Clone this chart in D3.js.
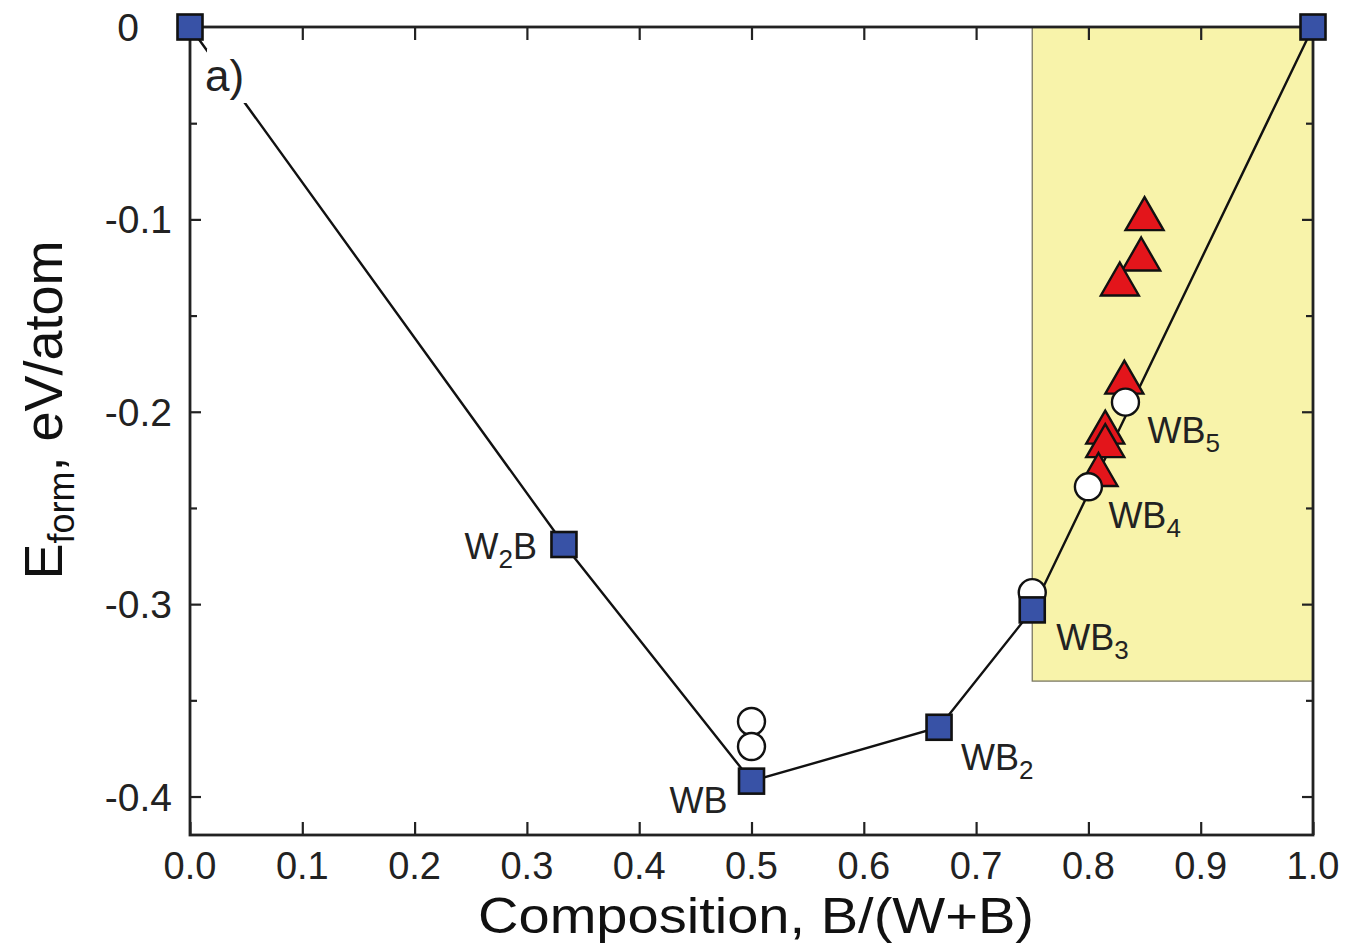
<!DOCTYPE html>
<html>
<head>
<meta charset="utf-8">
<script src="https://cdn.jsdelivr.net/npm/d3@7"></script>
<style>
  html, body { margin: 0; padding: 0; background: #fff; }
  svg { display: block; font-family: Arial, "Liberation Sans", Helvetica, sans-serif; }
</style>
</head>
<body>
<div id="chart"></div>
<script>
// Convex hull (stable phases), blue squares
const hullX = [0, 0.333, 0.5, 0.667, 0.75, 1.0];
const hullY = [0, -0.269, -0.392, -0.364, -0.303, 0];
const hullLabels = ["", "W{2}B", "WB", "WB{2}", "WB{3}", ""];

// Metastable structures, open circles
const circleX = [0.5, 0.5, 0.75, 0.8, 0.833];
const circleY = [-0.361, -0.374, -0.294, -0.239, -0.195];
const circleLabels = ["", "", "", "WB{4}", "WB{5}"];

// Other structures, red triangles
const triX = [0.85, 0.847, 0.828, 0.832, 0.815, 0.815, 0.809];
const triY = [-0.097, -0.118, -0.131, -0.182, -0.208, -0.215, -0.23];

// Highlighted boron-rich region
const regionX = [0.75, 1.0];
const regionY = [0, -0.34];

// Axis ticks
const xTicks = [0, 0.1, 0.2, 0.3, 0.4, 0.5, 0.6, 0.7, 0.8, 0.9, 1.0];
const yTicks = [0, -0.1, -0.2, -0.3, -0.4];
const yMinorTicks = [-0.05, -0.15, -0.25, -0.35];
const xDomain = [0, 1.0];
const yDomain = [-0.42, 0];

function drawHullChart(containerSelector) {
  const W = 1348, H = 945;
  const margin = { top: 27, right: 35, bottom: 110, left: 190 };
  const width = 1313 - margin.left;
  const height = 835 - margin.top;

  const svg = d3.select(containerSelector)
    .append("svg")
    .attr("width", W)
    .attr("height", H);

  const g = svg.append("g")
    .attr("transform", `translate(${margin.left},${margin.top})`);

  const x = d3.scaleLinear().domain(xDomain).range([0, width]);
  const y = d3.scaleLinear().domain(yDomain).range([height, 0]);

  // Yellow box
  g.append("rect")
    .attr("x", x(regionX[0]))
    .attr("y", y(regionY[0]))
    .attr("width", x(regionX[1]) - x(regionX[0]))
    .attr("height", y(regionY[1]) - y(regionY[0]))
    .attr("fill", "#f8f3aa")
    .attr("stroke", "#7a7862")
    .attr("stroke-width", 1.3);

  // Ticks (inward, all four sides)
  const tickStyle = sel => sel.select(".domain").remove();
  g.append("g").attr("transform", `translate(0,${height})`)
    .call(d3.axisTop(x).tickValues(xTicks).tickSize(13).tickFormat(""))
    .call(tickStyle);
  g.append("g")
    .call(d3.axisBottom(x).tickValues(xTicks).tickSize(13).tickFormat(""))
    .call(tickStyle);
  g.append("g")
    .call(d3.axisRight(y).tickValues(yTicks).tickSize(11).tickFormat(""))
    .call(tickStyle);
  g.append("g")
    .call(d3.axisRight(y).tickValues(yMinorTicks).tickSize(7).tickFormat(""))
    .call(tickStyle);
  g.append("g").attr("transform", `translate(${width},0)`)
    .call(d3.axisLeft(y).tickValues(yTicks).tickSize(11).tickFormat(""))
    .call(tickStyle);
  g.append("g").attr("transform", `translate(${width},0)`)
    .call(d3.axisLeft(y).tickValues(yMinorTicks).tickSize(7).tickFormat(""))
    .call(tickStyle);
  g.selectAll(".tick line").attr("stroke", "#222").attr("stroke-width", 2.2);

  // Frame
  g.append("rect")
    .attr("width", width)
    .attr("height", height)
    .attr("fill", "none")
    .attr("stroke", "#222")
    .attr("stroke-width", 2.8);

  // Tick labels (plain hyphen for minus, as in the original)
  const fmt = d => d === 0 ? "0" : d3.format(".1f")(d).replace("\u2212", "-");
  g.append("g").selectAll("text")
    .data(xTicks)
    .join("text")
    .attr("x", d => x(d))
    .attr("y", height + 44)
    .attr("text-anchor", "middle")
    .attr("font-size", 38)
    .attr("fill", "#222")
    .text(d => d3.format(".1f")(d));

  g.append("g").selectAll("text")
    .data(yTicks)
    .join("text")
    .attr("x", d => d === 0 ? -51 : -18)
    .attr("y", d => y(d))
    .attr("dy", "0.36em")
    .attr("text-anchor", "end")
    .attr("font-size", 39)
    .attr("fill", "#222")
    .text(fmt);

  // Axis titles
  svg.append("text")
    .attr("x", 756)
    .attr("y", 933)
    .attr("text-anchor", "middle")
    .attr("font-size", 50)
    .attr("textLength", 556)
    .attr("lengthAdjust", "spacingAndGlyphs")
    .attr("fill", "#111")
    .text("Composition, B/(W+B)");

  const yTitle = svg.append("text")
    .attr("transform", "translate(62,410) rotate(-90)")
    .attr("text-anchor", "middle")
    .attr("font-size", 54)
    .attr("fill", "#111");
  yTitle.append("tspan").text("E");
  yTitle.append("tspan").attr("font-size", 36).attr("dy", 12).text("form");
  yTitle.append("tspan").attr("dy", -12).text(", eV/atom");

  // Hull line
  const hullPts = hullX.map((d, i) => [d, hullY[i]]);
  g.append("path")
    .datum(hullPts)
    .attr("fill", "none")
    .attr("stroke", "#111")
    .attr("stroke-width", 2.4)
    .attr("d", d3.line().x(d => x(d[0])).y(d => y(d[1])));

  // Panel label "a)" with white background over the line
  g.append("rect")
    .attr("x", 17).attr("y", 22)
    .attr("width", 42).attr("height", 54)
    .attr("fill", "#fff");
  g.append("text")
    .attr("x", 15)
    .attr("y", 64)
    .attr("font-size", 44)
    .attr("fill", "#222")
    .text("a)");

  // Triangles
  const tw = 38, th = 33;
  const triPath = `M0,${-th / 2}L${tw / 2},${th / 2}L${-tw / 2},${th / 2}Z`;
  g.append("g").selectAll("path")
    .data(triX.map((d, i) => [d, triY[i]]))
    .join("path")
    .attr("transform", d => `translate(${x(d[0])},${y(d[1])})`)
    .attr("d", triPath)
    .attr("fill", "#e3151b")
    .attr("stroke", "#111")
    .attr("stroke-width", 2.4)
    .attr("stroke-linejoin", "miter");

  // Circles
  g.append("g").selectAll("circle")
    .data(circleX.map((d, i) => [d, circleY[i]]))
    .join("circle")
    .attr("cx", d => x(d[0]))
    .attr("cy", d => y(d[1]))
    .attr("r", 13.5)
    .attr("fill", "#fff")
    .attr("stroke", "#111")
    .attr("stroke-width", 2.4);

  // Squares
  const s = 25;
  g.append("g").selectAll("rect")
    .data(hullPts)
    .join("rect")
    .attr("x", d => x(d[0]) - s / 2)
    .attr("y", d => y(d[1]) - s / 2)
    .attr("width", s)
    .attr("height", s)
    .attr("fill", "#3852a6")
    .attr("stroke", "#111")
    .attr("stroke-width", 2.6);

  // Compound labels, "{n}" marks a subscript
  function addLabel(str, px, py, anchor) {
    const t = g.append("text")
      .attr("x", px).attr("y", py)
      .attr("text-anchor", anchor)
      .attr("font-size", 36)
      .attr("fill", "#222");
    str.split(/(\{\d+\})/).filter(p => p).forEach(p => {
      if (p.startsWith("{")) {
        t.append("tspan").attr("font-size", 26).attr("dy", 9).text(p.slice(1, -1));
      } else {
        const sp = t.append("tspan").text(p);
        if (t.selectAll("tspan").size() > 1) sp.attr("dy", -9);
      }
    });
  }

  // label offsets relative to the marker (px)
  const hullOffsets = [null, [-27, 14, "end"], [-24, 32, "end"], [22, 43, "start"], [24, 40, "start"], null];
  hullLabels.forEach((lab, i) => {
    if (!lab) return;
    const o = hullOffsets[i];
    addLabel(lab, x(hullX[i]) + o[0], y(hullY[i]) + o[1], o[2]);
  });
  const circleOffsets = [null, null, null, [20, 41, "start"], [22, 41, "start"]];
  circleLabels.forEach((lab, i) => {
    if (!lab) return;
    const o = circleOffsets[i];
    addLabel(lab, x(circleX[i]) + o[0], y(circleY[i]) + o[1], o[2]);
  });
}

drawHullChart("#chart");
</script>
</body>
</html>
